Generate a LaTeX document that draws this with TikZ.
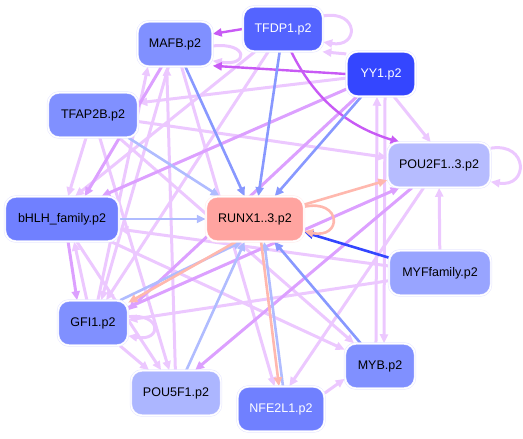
\documentclass[tikz,border=0pt]{standalone}
\usepackage{fontspec}
\setmainfont{Liberation Sans}
\usetikzlibrary{arrows.meta,backgrounds}

\definecolor{cDeep}{RGB}{52,70,255}
\definecolor{cDark}{RGB}{84,100,255}
\definecolor{cMid}{RGB}{112,128,255}
\definecolor{cBase}{RGB}{128,144,255}
\definecolor{cSoft}{RGB}{152,164,255}
\definecolor{cPale}{RGB}{172,182,255}
\definecolor{cPaler}{RGB}{182,188,255}
\definecolor{cRunx}{RGB}{255,164,160}
\definecolor{eLp}{RGB}{236,200,255}
\definecolor{eMp}{RGB}{220,160,255}
\definecolor{eMg}{RGB}{200,90,245}
\definecolor{eBl}{RGB}{136,152,255}
\definecolor{eLb}{RGB}{176,188,255}
\definecolor{eSa}{RGB}{255,184,174}

\begin{document}
\begin{tikzpicture}[
  x=1pt, y=-1pt,
  >={Triangle[length=9pt,width=8pt]},
  font=\fontsize{12.5}{14}\selectfont,
  gene/.style={rounded corners=11pt, minimum height=45pt, inner sep=2pt,
               draw=blue!10, double=white, double distance=1.4pt, line width=0.5pt},
  edge/.style={->, line width=3pt},
  lp/.style={edge, draw=eLp},
  mp/.style={edge, draw=eMp},
  mg/.style={edge, draw=eMg, line width=2.4pt},
  bl/.style={edge, draw=eBl, line width=2.6pt},
  lb/.style={edge, draw=eLb, line width=2.6pt},
  sa/.style={edge, draw=eSa, line width=2.6pt},
  db/.style={edge, draw=cDeep, line width=2.6pt}
]
  \useasboundingbox (0,0) rectangle (523,439);
  \node[gene, fill=cDark, text=white, minimum width=80pt] (tfdp1) at (283,29) {TFDP1.p2};
  \node[gene, fill=cBase, minimum width=75pt] (mafb) at (175,44) {MAFB.p2};
  \node[gene, fill=cDeep, text=white, minimum width=69pt] (yy1) at (381,74) {YY1.p2};
  \node[gene, fill=cBase, minimum width=90pt] (tfap2b) at (93,115) {TFAP2B.p2};
  \node[gene, fill=cPaler, minimum width=103pt] (pou2f1) at (439,165) {POU2F1..3.p2};
  \node[gene, fill=cMid, minimum width=114pt] (bhlh) at (62,219) {bHLH\_family.p2};
  \node[gene, fill=cRunx, draw=red!8, minimum width=98pt] (runx) at (255,219) {RUNX1..3.p2};
  \node[gene, fill=cSoft, minimum width=102pt] (myf) at (440,273) {MYFfamily.p2};
  \node[gene, fill=cBase, minimum width=70pt] (gfi1) at (93,323) {GFI1.p2};
  \node[gene, fill=cBase, minimum width=70pt] (myb) at (380,366) {MYB.p2};
  \node[gene, fill=cPale, minimum width=90pt] (pou5f1) at (176,393) {POU5F1.p2};
  \node[gene, fill=cMid, text=white, minimum width=87pt] (nfe2l1) at (281,409) {NFE2L1.p2};
  \begin{scope}[on background layer]
    % light links first
    \draw[lp] (tfap2b) -- (bhlh.75);
    \draw[lp] (yy1) -- (tfap2b.15);
    \draw[lp] (tfap2b) -- (pou2f1);
    \draw[lp] (tfap2b) -- (pou5f1);
    \draw[lp] (tfap2b) -- (myb);
    \draw[lp] (tfdp1) -- (bhlh.60);
    \draw[lp] (bhlh) -- (myb);
    \draw[lp] (bhlh) -- (pou5f1);
    \draw[lp] (gfi1) -- (pou5f1);
    \draw[lp] (gfi1.105) -- (bhlh.-62);
    \draw[lp] (mafb) -- (gfi1.70);
    \draw[lp] (tfdp1) -- (gfi1.60);
    \draw[lp] (mafb) -- (nfe2l1);
    \draw[lp] (pou5f1) -- (mafb.-110);
    \draw[lp] (gfi1) -- (mafb.-140);
    \draw[lp] (myf) -- (bhlh.-10);
    \draw[lp] (myf) -- (gfi1.5);
    \draw[lp] (myf) -- (pou2f1);
    \draw[lp] (yy1.-60) -- (pou2f1.110);
    \draw[lp] (yy1.-80) -- (myb.80);
    \draw[lp] (myb.100) -- (yy1.-100);
    \draw[lp] (nfe2l1.20) -- (myb.200);
    \draw[lp] (yy1.150) -- (tfdp1.-30);
    \draw[lp] (pou2f1) -- (nfe2l1.70);
    \draw[lp] (tfdp1.18) .. controls +(36,-6) and +(36,6) .. (tfdp1.-18);
    \draw[lp] (mafb.-3) .. controls +(36,-4) and +(36,6) .. (mafb.-24);
    \draw[lp] (pou2f1.18) .. controls +(38,-6) and +(38,6) .. (pou2f1.-18);
    \draw[lp] (gfi1.10) .. controls +(34,-4) and +(34,6) .. (gfi1.-20);
    \draw[mp] (mafb) -- (bhlh.45);
    \draw[mp] (yy1) -- (bhlh.30);
    \draw[mp] (bhlh.-75) -- (gfi1.125);
    \draw[mp] (pou2f1) -- (pou5f1.50);
    \draw[mp] (gfi1) -- (pou2f1.210);
    \draw[mp] (yy1) -- (gfi1.20);
    % strong links
    \draw[mg] (tfdp1.west) -- (mafb.15);
    \draw[mg] (yy1.west) -- (mafb.-30);
    \draw[mg] (tfdp1.-70) .. controls (320,110) and (360,130) .. (pou2f1.150);
    \draw[bl] (mafb) -- (runx);
    \draw[bl] (tfdp1) -- (runx);
    \draw[bl] (yy1) -- (runx);
    \draw[bl] (myb) -- (runx);
    \draw[lb] (tfap2b) -- (runx);
    \draw[lb] (bhlh) -- (runx);
    \draw[lb] (pou5f1) -- (runx);
    \draw[lb] (gfi1.40) -- (runx.-120);
    \draw[lb] (nfe2l1.85) -- (runx.-68);
    \draw[db] (myf) -- (runx.-15);
    \draw[sa] (runx) -- (pou2f1);
    \draw[sa] (runx.-130) -- (gfi1.30);
    \draw[sa] (runx.-75) -- (nfe2l1.95);
    \draw[sa] (runx.14) .. controls +(38,-8) and +(38,8) .. (runx.-14);
  \end{scope}
\end{tikzpicture}
\end{document}
